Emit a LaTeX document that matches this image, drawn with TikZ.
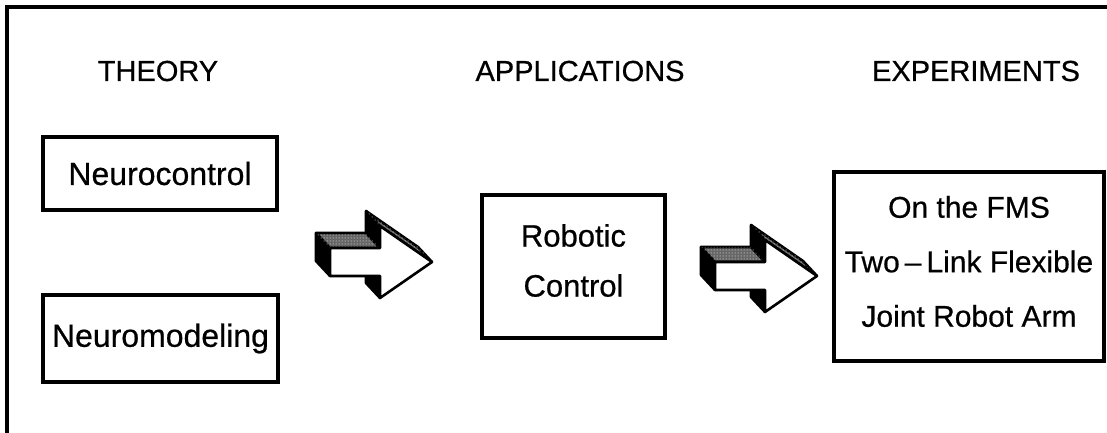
\documentclass[tikz,border=0pt]{standalone}
\usepackage{fontspec}
\setmainfont{Liberation Sans}[FakeBold=0.6]
\usetikzlibrary{patterns}
\begin{document}
\begin{tikzpicture}[x=1pt,y=-1pt,
  head/.style={font=\fontsize{29}{34}\selectfont, inner sep=0pt},
  box/.style={draw, line width=3.2pt, align=center, inner sep=0pt},
  label text/.style={align=center, inner sep=0pt},
  face/.style={draw, line width=2.6pt, line join=round},
  % 3-D block arrow; origin at the tip of the front face, depth towards upper left
  blockarrow/.pic={
    \def\dx{-14}\def\dy{-15}
    \def\sh{14}\def\hh{36}\def\hl{-52}\def\sl{-102}
    % back face as dark base
    \fill[black] (\dx,\dy) -- (\hl+\dx,-\hh+\dy) -- (\hl+\dx,-\sh+\dy) -- (\sl+\dx,-\sh+\dy)
      -- (\sl+\dx,\sh+\dy) -- (\hl+\dx,\sh+\dy) -- (\hl+\dx,\hh+\dy) -- cycle;
    % dark sides
    \filldraw[face, fill=black] (\sl,-\sh) -- (\sl+\dx,-\sh+\dy) -- (\sl+\dx,\sh+\dy) -- (\sl,\sh) -- cycle;
    \filldraw[face, fill=black] (\hl,-\hh) -- (\hl+\dx,-\hh+\dy) -- (\hl+\dx,-\sh+\dy) -- (\hl,-\sh) -- cycle;
    \filldraw[face, fill=black] (\hl,\sh) -- (\hl+\dx,\sh+\dy) -- (\hl+\dx,\hh+\dy) -- (\hl,\hh) -- cycle;
    % speckled top faces
    \filldraw[face, fill=black!60] (\sl,-\sh) -- (\sl+\dx,-\sh+\dy) -- (\hl+\dx,-\sh+\dy) -- (\hl,-\sh) -- cycle;
    \fill[pattern=dots, pattern color=white] (\sl,-\sh) -- (\sl+\dx,-\sh+\dy) -- (\hl+\dx,-\sh+\dy) -- (\hl,-\sh) -- cycle;
    \filldraw[face, fill=black!60] (\hl,-\hh) -- (\hl+\dx,-\hh+\dy) -- (\dx,\dy) -- (0,0) -- cycle;
    \fill[pattern=dots, pattern color=white] (\hl,-\hh) -- (\hl+\dx,-\hh+\dy) -- (\dx,\dy) -- (0,0) -- cycle;
    % white front face
    \filldraw[face, fill=white] (0,0) -- (\hl,-\hh) -- (\hl,-\sh) -- (\sl,-\sh)
      -- (\sl,\sh) -- (\hl,\sh) -- (\hl,\hh) -- cycle;
  }]
\useasboundingbox (0,0) rectangle (1107,433);
\fill[white] (0,0) rectangle (1107,433);

% open frame: top and left rules
\coordinate (frameTL) at (7,7);
\coordinate (frameTR) at (1107,7);
\coordinate (frameBL) at (7,433);
\draw[line width=3.4pt] (frameTR) -- (frameTL) -- (frameBL);

% column headings
\node[head] (hTheory) at (158,71) {THEORY};
\node[head] (hApps)   at (580,71) {APPLICATIONS};
\node[head] (hExp)    at (976,71) {EXPERIMENTS};

% theory boxes
\node[box, font=\fontsize{32}{38}\selectfont, minimum width=234pt, minimum height=73pt] (nc) at (160,173.5) {Neurocontrol};
\node[box, font=\fontsize{32}{38}\selectfont, minimum width=235pt, minimum height=87pt] (nm) at (160.5,338.5) {Neuromodeling};

% application box
\node[box, minimum width=183pt, minimum height=143pt] (rc) at (573.5,266.5) {};
\node[label text, font=\fontsize{31}{50}\selectfont] (rcText) at (573.5,260.5) {Robotic\\Control};

% experiment box
\node[box, minimum width=270pt, minimum height=189pt] (ex) at (969,266.5) {};
\node[label text, font=\fontsize{30}{54.5}\selectfont] (exText) at (969,261.5)
  {On the FMS\\Two\,--\,Link Flexible\\Joint Robot Arm};

% block arrows between the columns
\pic at (432,262) {blockarrow};
\pic at (817,276) {blockarrow};
\end{tikzpicture}
\end{document}
